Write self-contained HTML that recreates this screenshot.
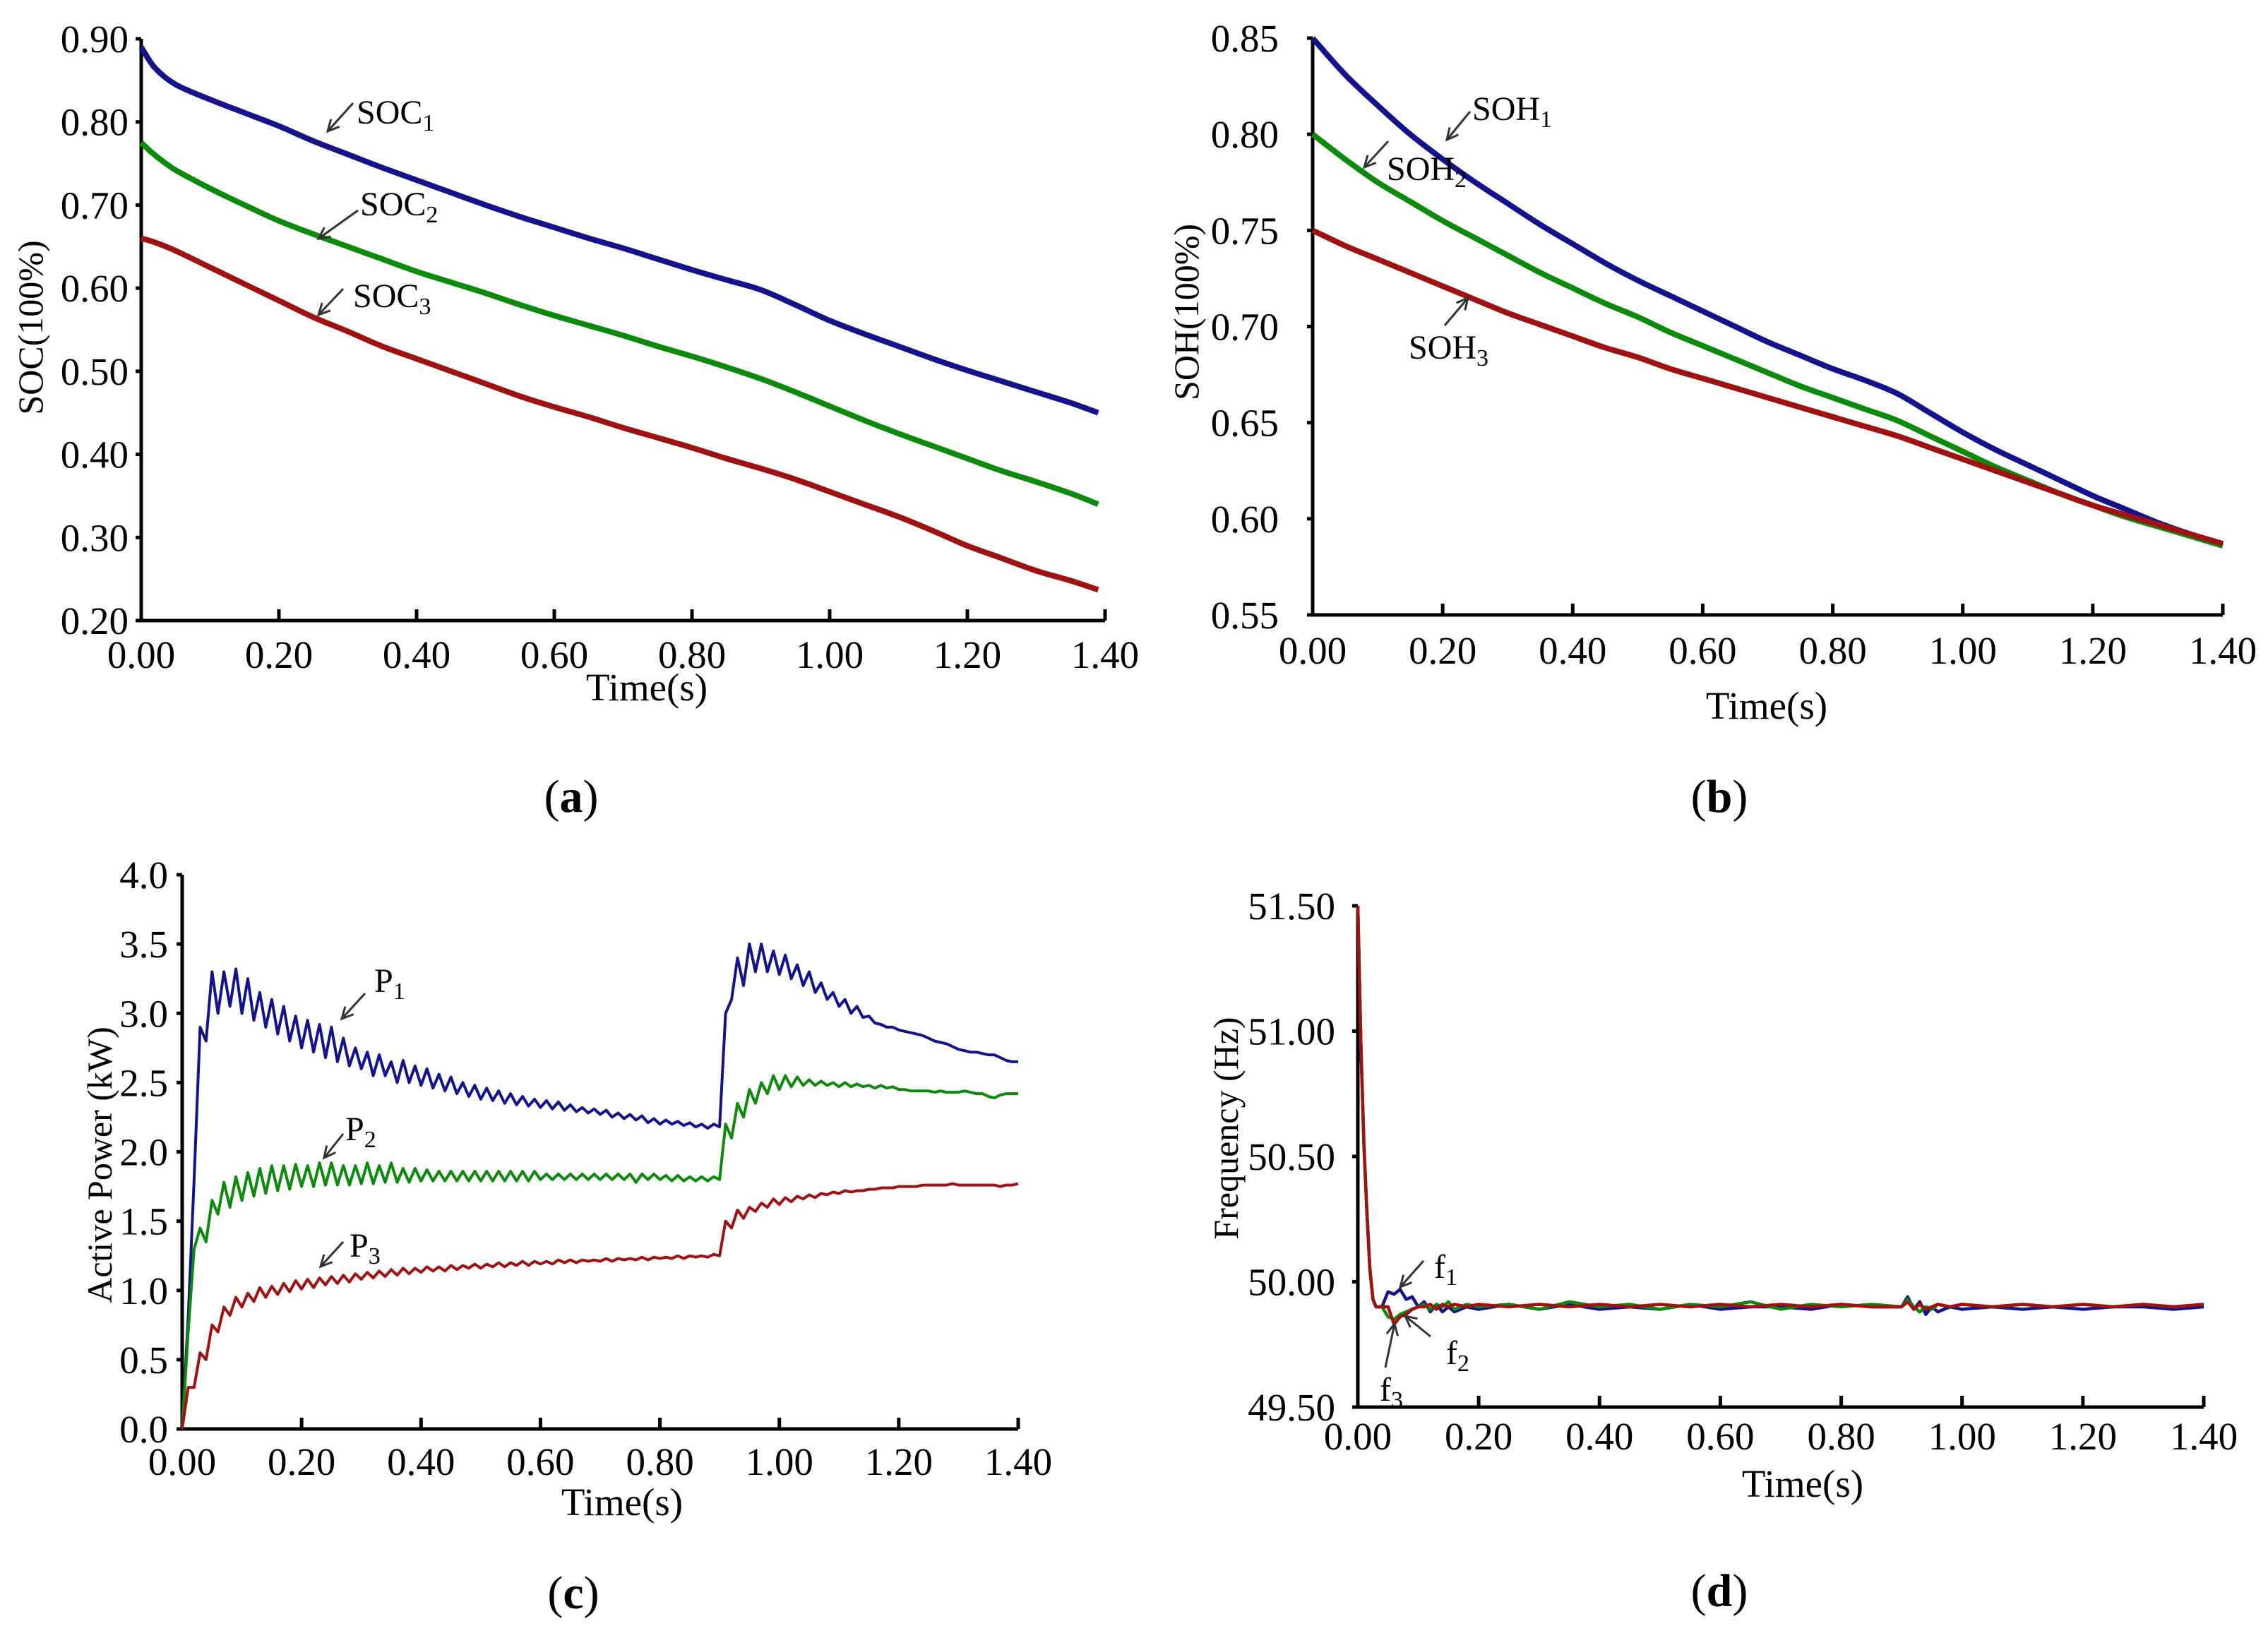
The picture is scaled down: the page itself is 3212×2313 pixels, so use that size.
<!DOCTYPE html>
<html><head><meta charset="utf-8">
<style>
html,body{margin:0;padding:0;background:#fff;}
svg{display:block;}
text{font-family:"Liberation Serif",serif;fill:#000;}
</style></head>
<body>
<svg id="fig" width="3212" height="2313" viewBox="0 0 3212 2313" xmlns="http://www.w3.org/2000/svg"></svg>
<script>
// ---------- Panel (a) SOC ----------
const socTimes = [0,0.02,0.05,0.10,0.15,0.20,0.25,0.30,0.35,0.40,0.45,0.50,0.55,0.60,0.65,0.70,0.75,0.80,0.85,0.90,0.95,1.00,1.05,1.10,1.15,1.20,1.25,1.30,1.35,1.39];
const soc1 = [0.89,0.865,0.845,0.827,0.811,0.795,0.777,0.761,0.745,0.73,0.715,0.70,0.686,0.673,0.66,0.648,0.635,0.622,0.61,0.598,0.58,0.561,0.545,0.53,0.515,0.501,0.488,0.475,0.462,0.45];
const soc2 = [0.775,0.76,0.742,0.72,0.70,0.681,0.665,0.65,0.635,0.62,0.607,0.594,0.58,0.567,0.555,0.543,0.53,0.518,0.505,0.491,0.475,0.458,0.441,0.425,0.41,0.395,0.38,0.367,0.353,0.34];
const soc3 = [0.66,0.655,0.645,0.625,0.605,0.585,0.565,0.548,0.53,0.515,0.50,0.485,0.47,0.457,0.445,0.432,0.42,0.408,0.395,0.383,0.37,0.355,0.34,0.325,0.308,0.29,0.275,0.26,0.248,0.237];
const socYTicks = ["0.20","0.30","0.40","0.50","0.60","0.70","0.80","0.90"];
const timeTicks = ["0.00","0.20","0.40","0.60","0.80","1.00","1.20","1.40"];

// ---------- Panel (b) SOH ----------
const sohTimes = [0,0.05,0.10,0.15,0.20,0.25,0.30,0.35,0.40,0.45,0.50,0.55,0.60,0.65,0.70,0.75,0.80,0.85,0.90,0.95,1.00,1.05,1.10,1.15,1.20,1.25,1.30,1.35,1.40];
const soh1 = [0.85,0.831,0.815,0.80,0.787,0.775,0.764,0.753,0.743,0.733,0.724,0.716,0.708,0.70,0.692,0.685,0.678,0.672,0.665,0.655,0.645,0.636,0.628,0.62,0.612,0.605,0.598,0.592,0.587];
const soh2 = [0.80,0.787,0.775,0.765,0.755,0.746,0.737,0.728,0.72,0.712,0.705,0.697,0.69,0.683,0.676,0.669,0.663,0.657,0.651,0.643,0.635,0.627,0.62,0.613,0.607,0.601,0.596,0.591,0.586];
const soh3 = [0.75,0.742,0.735,0.728,0.721,0.714,0.707,0.701,0.695,0.689,0.684,0.678,0.673,0.668,0.663,0.658,0.653,0.648,0.643,0.637,0.631,0.625,0.619,0.613,0.607,0.602,0.597,0.592,0.587];
const sohYTicks = ["0.55","0.60","0.65","0.70","0.75","0.80","0.85"];

// ---------- Panel (c) Active power ----------
const pTimes = [0,0.01,0.02,0.03,0.04,0.05,0.06,0.07,0.08,0.09,0.10,0.11,0.12,0.13,0.14,0.15,0.16,0.17,0.18,0.19,0.20,0.21,0.22,0.23,0.24,0.25,0.26,0.27,0.28,0.29,0.30,0.31,0.32,0.33,0.34,0.35,0.36,0.37,0.38,0.39,0.40,0.41,0.42,0.43,0.44,0.45,0.46,0.47,0.48,0.49,0.50,0.51,0.52,0.53,0.54,0.55,0.56,0.57,0.58,0.59,0.60,0.61,0.62,0.63,0.64,0.65,0.66,0.67,0.68,0.69,0.70,0.71,0.72,0.73,0.74,0.75,0.76,0.77,0.78,0.79,0.80,0.81,0.82,0.83,0.84,0.85,0.86,0.87,0.88,0.89,0.90,0.91,0.92,0.93,0.94,0.95,0.96,0.97,0.98,0.99,1.00,1.01,1.02,1.03,1.04,1.05,1.06,1.07,1.08,1.09,1.10,1.11,1.12,1.13,1.14,1.15,1.16,1.17,1.18,1.19,1.20,1.21,1.22,1.23,1.24,1.25,1.26,1.27,1.28,1.29,1.30,1.31,1.32,1.33,1.34,1.35,1.36,1.37,1.38,1.39,1.40];
const p1 = [0,0.8,1.8,2.9,2.8,3.3,3.0,3.3,3.05,3.32,3.0,3.25,2.95,3.15,2.9,3.1,2.85,3.05,2.8,2.98,2.75,2.95,2.72,2.92,2.68,2.9,2.65,2.82,2.62,2.75,2.6,2.72,2.55,2.7,2.55,2.65,2.5,2.66,2.5,2.62,2.48,2.6,2.46,2.56,2.44,2.54,2.42,2.5,2.4,2.48,2.38,2.46,2.37,2.44,2.35,2.42,2.34,2.4,2.33,2.38,2.32,2.37,2.31,2.36,2.3,2.34,2.29,2.32,2.28,2.31,2.27,2.3,2.25,2.28,2.24,2.27,2.23,2.26,2.21,2.24,2.2,2.23,2.2,2.22,2.19,2.21,2.18,2.2,2.17,2.2,2.18,3.0,3.1,3.4,3.2,3.5,3.3,3.5,3.3,3.45,3.28,3.42,3.25,3.35,3.2,3.3,3.15,3.22,3.1,3.15,3.05,3.1,3.0,3.05,2.97,2.98,2.93,2.92,2.9,2.9,2.88,2.87,2.86,2.85,2.84,2.82,2.8,2.79,2.78,2.76,2.74,2.73,2.72,2.72,2.71,2.7,2.7,2.68,2.66,2.65,2.65];
const p2 = [0,0.7,1.3,1.45,1.35,1.65,1.55,1.78,1.6,1.82,1.65,1.85,1.68,1.88,1.7,1.9,1.72,1.9,1.73,1.91,1.75,1.9,1.75,1.92,1.76,1.92,1.76,1.9,1.76,1.9,1.77,1.92,1.77,1.9,1.78,1.92,1.78,1.88,1.78,1.88,1.79,1.87,1.79,1.86,1.79,1.86,1.79,1.86,1.79,1.86,1.79,1.86,1.79,1.86,1.79,1.86,1.79,1.86,1.79,1.86,1.8,1.84,1.8,1.84,1.8,1.84,1.8,1.84,1.8,1.84,1.8,1.84,1.8,1.84,1.8,1.84,1.78,1.84,1.8,1.84,1.8,1.83,1.79,1.83,1.79,1.82,1.79,1.82,1.79,1.82,1.8,2.2,2.1,2.35,2.25,2.45,2.35,2.5,2.42,2.55,2.45,2.55,2.47,2.54,2.48,2.52,2.48,2.51,2.48,2.5,2.47,2.5,2.47,2.49,2.47,2.48,2.46,2.48,2.46,2.47,2.45,2.45,2.44,2.44,2.44,2.44,2.43,2.44,2.43,2.43,2.43,2.44,2.43,2.42,2.42,2.4,2.39,2.41,2.42,2.42,2.42];
const p3 = [0,0.3,0.3,0.55,0.5,0.75,0.7,0.88,0.82,0.95,0.88,0.98,0.92,1.02,0.95,1.03,0.97,1.05,0.99,1.07,1.01,1.08,1.02,1.09,1.04,1.1,1.05,1.11,1.06,1.12,1.08,1.13,1.09,1.14,1.1,1.15,1.11,1.16,1.12,1.16,1.13,1.17,1.14,1.17,1.14,1.18,1.15,1.18,1.16,1.19,1.16,1.19,1.17,1.2,1.17,1.2,1.18,1.21,1.18,1.21,1.19,1.21,1.19,1.22,1.2,1.22,1.2,1.22,1.21,1.22,1.21,1.23,1.21,1.23,1.22,1.23,1.22,1.24,1.22,1.24,1.23,1.24,1.23,1.25,1.23,1.25,1.24,1.25,1.24,1.26,1.25,1.5,1.45,1.58,1.52,1.6,1.57,1.63,1.6,1.66,1.62,1.67,1.64,1.68,1.66,1.69,1.67,1.7,1.69,1.71,1.7,1.72,1.71,1.72,1.72,1.73,1.73,1.74,1.74,1.74,1.75,1.75,1.75,1.75,1.76,1.76,1.76,1.76,1.76,1.77,1.76,1.76,1.76,1.76,1.76,1.76,1.76,1.75,1.76,1.76,1.77];
const pYTicks = ["0.0","0.5","1.0","1.5","2.0","2.5","3.0","3.5","4.0"];

// ---------- Panel (d) Frequency ----------
const fTimes = [0,0.005,0.01,0.015,0.02,0.025,0.03,0.04,0.05,0.06,0.07,0.08,0.09,0.10,0.11,0.12,0.13,0.14,0.15,0.16,0.18,0.20,0.25,0.30,0.35,0.40,0.45,0.50,0.55,0.60,0.65,0.70,0.75,0.80,0.85,0.90,0.91,0.92,0.93,0.94,0.95,0.96,0.98,1.00,1.05,1.10,1.15,1.20,1.25,1.30,1.35,1.40];
const f1 = [51.5,50.95,50.55,50.28,50.05,49.93,49.9,49.9,49.96,49.95,49.97,49.93,49.94,49.9,49.92,49.88,49.91,49.88,49.9,49.88,49.9,49.89,49.91,49.89,49.91,49.89,49.9,49.89,49.91,49.89,49.9,49.9,49.89,49.91,49.9,49.9,49.94,49.89,49.92,49.87,49.9,49.88,49.9,49.89,49.9,49.89,49.9,49.89,49.9,49.9,49.89,49.9];
const f2 = [51.5,50.95,50.55,50.28,50.05,49.93,49.9,49.9,49.86,49.85,49.87,49.88,49.89,49.9,49.91,49.89,49.91,49.9,49.92,49.89,49.91,49.9,49.91,49.89,49.92,49.9,49.91,49.89,49.91,49.9,49.92,49.89,49.91,49.9,49.91,49.9,49.93,49.9,49.88,49.9,49.89,49.91,49.9,49.91,49.9,49.91,49.9,49.91,49.9,49.91,49.9,49.91];
const f3 = [51.5,50.95,50.55,50.28,50.05,49.93,49.9,49.9,49.9,49.83,49.86,49.87,49.89,49.9,49.9,49.91,49.89,49.91,49.9,49.91,49.9,49.91,49.9,49.91,49.9,49.91,49.9,49.91,49.9,49.91,49.9,49.91,49.9,49.91,49.9,49.9,49.92,49.89,49.91,49.89,49.9,49.91,49.9,49.91,49.9,49.91,49.9,49.91,49.9,49.91,49.9,49.91];
const fYTicks = ["49.50","50.00","50.50","51.00","51.50"];

const BLUE="#13138c", GREEN="#0b8a0b", RED="#a01212";
const NS="http://www.w3.org/2000/svg";
const svg=document.getElementById('fig');
function mk(tag,attrs,parent){const e=document.createElementNS(NS,tag);for(const k in attrs)e.setAttribute(k,attrs[k]);(parent||svg).appendChild(e);return e;}

function smoothPath(pts){
  let d=`M${pts[0][0].toFixed(1)},${pts[0][1].toFixed(1)} `;
  for(let i=0;i<pts.length-1;i++){
    const p0=pts[Math.max(0,i-1)],p1=pts[i],p2=pts[i+1],p3=pts[Math.min(pts.length-1,i+2)];
    const c1=[p1[0]+(p2[0]-p0[0])/6,p1[1]+(p2[1]-p0[1])/6];
    const c2=[p2[0]-(p3[0]-p1[0])/6,p2[1]-(p3[1]-p1[1])/6];
    d+=`C${c1[0].toFixed(1)},${c1[1].toFixed(1)} ${c2[0].toFixed(1)},${c2[1].toFixed(1)} ${p2[0].toFixed(1)},${p2[1].toFixed(1)} `;
  }
  return d;
}

function panel(cfg){
  const g=mk('g',{});
  
  
  const X=t=>cfg.x0+(t-cfg.tmin)/(cfg.tmax-cfg.tmin)*(cfg.x1-cfg.x0);
  const Y=v=>cfg.y0+(v-cfg.vmin)/(cfg.vmax-cfg.vmin)*(cfg.y1-cfg.y0);
  const ax=mk('path',{d:`M${cfg.x0},${cfg.y1} L${cfg.x0},${cfg.y0} L${cfg.x1},${cfg.y0}`,fill:'none',stroke:'#000','stroke-width':5},g);
  
  
  cfg.yTicks.forEach(s=>{const v=parseFloat(s);const y=Y(v);
    mk('line',{x1:cfg.x0-8,x2:cfg.x0,y1:y,y2:y,stroke:'#000','stroke-width':5},g);
    const t=mk('text',{x:cfg.ytx,y:y+19,'text-anchor':'end','font-size':55},g);t.textContent=s;
    
    
  });
  timeTicks.forEach(s=>{const v=parseFloat(s);const x=X(v);
    mk('line',{x1:x,x2:x,y1:cfg.y0,y2:cfg.y0-16,stroke:'#000','stroke-width':5},g);
    const t=mk('text',{x:x,y:cfg.xty,'text-anchor':'middle','font-size':55},g);t.textContent=s;
    
    
  });
  const xt=mk('text',{x:cfg.xtitle[0],y:cfg.xtitle[1],'text-anchor':'middle','font-size':55},g);xt.textContent='Time(s)';
  
  
  const yt=mk('text',{x:0,y:0,'text-anchor':'middle','font-size':50,transform:`translate(${cfg.ytitle[0]},${cfg.ytitle[1]}) rotate(-90)`},g);yt.textContent=cfg.ytitleText;
  
  
  const cap=mk('text',{x:cfg.cap[0],y:cfg.cap[1],'text-anchor':'middle','font-size':66},g);
  cap.innerHTML=`(<tspan font-weight="bold">${cfg.capLetter}</tspan>)`;
  
  
  cfg.series.forEach(s=>{
    const pts=s.vals.map((v,i)=>[X(s.times[i]),Y(v)]);
    let d;
    if(cfg.smooth){d=smoothPath(pts);}
    else{d='';pts.forEach((p,i)=>{d+=(i?'L':'M')+p[0].toFixed(1)+','+p[1].toFixed(1)+' ';});}
    const p=mk('path',{d:d,fill:'none',stroke:s.color,'stroke-width':cfg.sw,'stroke-linejoin':'round'},g);
    
    
  });
  cfg.labels.forEach(l=>{
    const a=mk('line',{x1:l.a[0],y1:l.a[1],x2:l.a[2],y2:l.a[3],stroke:'#333','stroke-width':3},g);
    
    
    const dx=l.a[2]-l.a[0],dy=l.a[3]-l.a[1],L=Math.hypot(dx,dy),ux=dx/L,uy=dy/L;
    const hx=l.a[2],hy=l.a[3];
    mk('path',{d:`M${hx-ux*16-uy*8},${hy-uy*16+ux*8} L${hx},${hy} L${hx-ux*16+uy*8},${hy-uy*16-ux*8}`,fill:'none',stroke:'#333','stroke-width':3},g);
    const t=mk('text',{x:l.t[0],y:l.t[1],'font-size':48},g);
    t.innerHTML=`${l.txt}<tspan font-size="34" dy="10">${l.sub}</tspan>`;
    
    
  });
}

panel({name:'soc-chart',x0:200,x1:1565,y0:879,y1:55,tmin:0,tmax:1.4,vmin:0.2,vmax:0.9,yTicks:socYTicks,ytx:182,xty:946,smooth:true,
  xtitle:[916,992],ytitle:[60,464],ytitleText:'SOC(100%)',cap:[809,1150],capLetter:'a',sw:8,
  series:[{name:'soc1-line',times:socTimes,vals:soc1,color:BLUE},{name:'soc2-line',times:socTimes,vals:soc2,color:GREEN},{name:'soc3-line',times:socTimes,vals:soc3,color:RED}],
  labels:[{a:[500,146,464,186],t:[505,175],txt:'SOC',sub:'1'},{a:[507,298,451,338],t:[510,305],txt:'SOC',sub:'2'},{a:[486,409,451,446],t:[500,435],txt:'SOC',sub:'3'}]});

panel({name:'soh-chart',x0:1859,x1:3148,y0:871,y1:54,tmin:0,tmax:1.4,vmin:0.55,vmax:0.85,yTicks:sohYTicks,ytx:1811,xty:940,smooth:true,
  xtitle:[2502,1018],ytitle:[1697,442],ytitleText:'SOH(100%)',cap:[2435,1150],capLetter:'b',sw:8,
  series:[{name:'soh1-line',times:sohTimes,vals:soh1,color:BLUE},{name:'soh2-line',times:sohTimes,vals:soh2,color:GREEN},{name:'soh3-line',times:sohTimes,vals:soh3,color:RED}],
  labels:[{a:[2082,158,2049,198],t:[2085,170],txt:'SOH',sub:'1'},{a:[1966,200,1932,237],t:[1964,255],txt:'SOH',sub:'2'},{a:[2046,461,2079,422],t:[1995,508],txt:'SOH',sub:'3'}]});

panel({name:'power-chart',x0:258,x1:1442,y0:2024,y1:1239,tmin:0,tmax:1.4,vmin:0,vmax:4,yTicks:pYTicks,ytx:238,xty:2089,
  xtitle:[881,2146],ytitle:[158,1650],ytitleText:'Active Power (kW)',cap:[812,2278],capLetter:'c',sw:4,
  series:[{name:'p1-line',times:pTimes,vals:p1,color:BLUE},{name:'p2-line',times:pTimes,vals:p2,color:GREEN},{name:'p3-line',times:pTimes,vals:p3,color:RED}],
  labels:[{a:[517,1407,484,1443],t:[530,1405],txt:'P',sub:'1'},{a:[486,1606,459,1640],t:[489,1615],txt:'P',sub:'2'},{a:[486,1759,454,1794],t:[495,1780],txt:'P',sub:'3'}]});

panel({name:'frequency-chart',x0:1923,x1:3121,y0:1993,y1:1283,tmin:0,tmax:1.4,vmin:49.5,vmax:51.5,yTicks:fYTicks,ytx:1891,xty:2053,
  xtitle:[2553,2120],ytitle:[1753,1598],ytitleText:'Frequency (Hz)',cap:[2435,2275],capLetter:'d',sw:4.5,
  series:[{name:'f1-line',times:fTimes,vals:f1,color:BLUE},{name:'f2-line',times:fTimes,vals:f2,color:GREEN},{name:'f3-line',times:fTimes,vals:f3,color:RED}],
  labels:[{a:[2016,1786,1983,1823],t:[2031,1810],txt:'f',sub:'1'},{a:[2026,1893,1990,1864],t:[2048,1932],txt:'f',sub:'2'},{a:[1962,1937,1975,1875],t:[1954,1984],txt:'f',sub:'3'}]});
</script>
</body></html>
